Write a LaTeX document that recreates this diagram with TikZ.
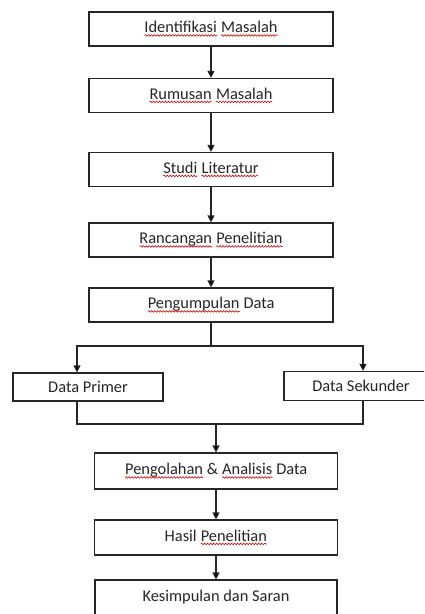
\documentclass[tikz,border=0pt]{standalone}
\usepackage{fontspec}
\setmainfont{Carlito}
\usetikzlibrary{arrows.meta,decorations.pathmorphing}
% word with a red wavy underline, as left by a spell checker
\newcommand\sw[1]{\tikz[baseline=(w.base),x=1pt,y=1pt]{%
  \node[inner sep=0pt,outer sep=0pt,draw=none,minimum width=0pt,minimum height=0pt] (w) {#1};
  \draw[red!85!black, line width=0.6pt, decorate,
    decoration={snake,amplitude=0.8pt,segment length=3pt}]
    ([yshift=-2.6pt]w.base west) -- ([yshift=-2.6pt]w.base east);}}
\tikzset{
  box/.style={draw=black!85, line width=1.2pt, minimum width=244, minimum height=34,
    inner sep=0pt, text=black!85, font=\fontsize{16.4}{19}\selectfont},
  link/.style={draw=black!85, line width=1.2pt},
  tip/.style={-{Triangle[length=7pt,width=7pt]}}
}
\begin{document}
\begin{tikzpicture}[x=1pt,y=-1pt]
  \clip (0,0) rectangle (424,614);
  \fill[white] (0,0) rectangle (424,614);

  % main chain
  \node[box] (b1) at (211,29)    {\sw{Identifikasi} \sw{Masalah}};
  \node[box] (b2) at (211,95.5)  {\sw{Rumusan} \sw{Masalah}};
  \node[box] (b3) at (211,169.5) {\sw{Studi} \sw{Literatur}};
  \node[box] (b4) at (211,240)   {\sw{Rancangan} \sw{Penelitian}};
  \node[box] (b5) at (211,305)   {\sw{Pengumpulan} Data};

  % data sources
  \node[box, minimum width=150, minimum height=28] (dp) at (88,387) {Data Primer};
  \node[box, minimum width=154, minimum height=29] (ds) at (361,386) {Data Sekunder};

  % processing and results
  \node[box, minimum width=243, minimum height=36] (b6) at (216,471)   {\sw{Pengolahan} \& \sw{Analisis} Data};
  \node[box, minimum width=243, minimum height=35] (b7) at (216,537.5) {Hasil \sw{Penelitian}};
  \node[box, minimum width=242, minimum height=35] (b8) at (216,597.5) {Kesimpulan dan Saran};

  \draw[link,tip] (b1) -- (b2);
  \draw[link,tip] (b2) -- (b3);
  \draw[link,tip] (b3) -- (b4);
  \draw[link,tip] (b4) -- (b5);

  % split into the two sources
  \coordinate (split) at (211,346);
  \draw[link] (b5.south) -- (split);
  \draw[link,tip] (split) -| ([xshift=-11]dp.north);
  \draw[link,tip] (split) -| ([xshift=2]ds.north);

  % merge back
  \coordinate (join) at (216,424);
  \draw[link] ([xshift=-11]dp.south) |- (join);
  \draw[link] ([xshift=2]ds.south) |- (join);
  \draw[link,tip] (join) -- (b6.north);

  \draw[link,tip] (b6) -- (b7);
  \draw[link,tip] (b7) -- (b8);
\end{tikzpicture}
\end{document}
